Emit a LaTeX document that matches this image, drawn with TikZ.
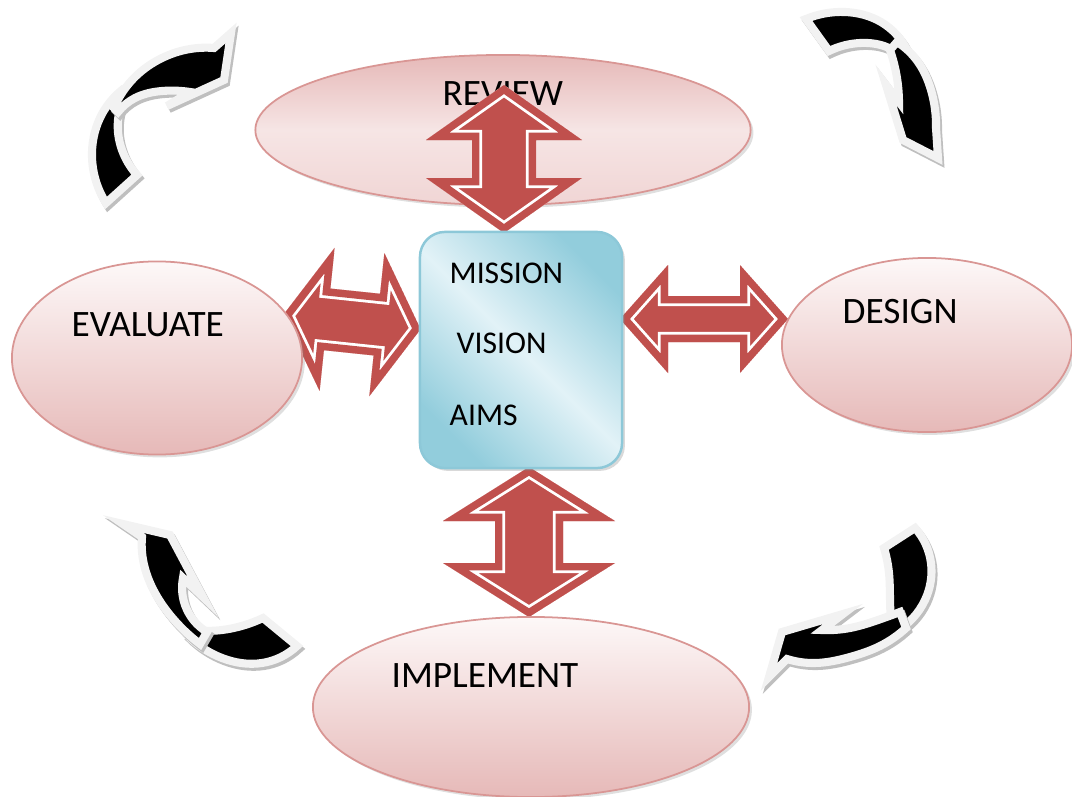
\documentclass[tikz,border=0pt]{standalone}
\usepackage{fontspec}
\setmainfont{Carlito}
\usetikzlibrary{shapes.geometric}
\usetikzlibrary{shadows}
\usetikzlibrary{hobby}

\definecolor{arrowred}{HTML}{C0504D}
\definecolor{ovalline}{HTML}{D99694}
\definecolor{ovalpale}{HTML}{FDF8F8}
\definecolor{ovalpink}{HTML}{E6B9B8}
\definecolor{coreline}{HTML}{8DC8D8}
\definecolor{coredark}{HTML}{92CDDC}
\definecolor{corelight}{HTML}{E2F2F7}
\definecolor{rimgrey}{HTML}{F2F2F2}
\definecolor{rimshadow}{HTML}{BFBFBF}

\tikzstyle{oval}=[ellipse, draw=ovalline, line width=0.5pt, inner sep=0pt,
  top color=ovalpale, bottom color=ovalpink,
  drop shadow={opacity=0.25, shadow xshift=0.8pt, shadow yshift=-0.8pt}]
\tikzstyle{corebox}=[rectangle, rounded corners=0.25cm, draw=coreline, line width=0.7pt,
  shading=axis, top color=coredark, bottom color=coredark, middle color=corelight,
  shading angle=-45, minimum width=2.02cm, minimum height=2.36cm,
  drop shadow={opacity=0.3, shadow xshift=0.8pt, shadow yshift=-0.8pt}]
\tikzstyle{stagetext}=[anchor=base west, inner sep=0pt, font=\fontsize{10.6}{12}\selectfont]
\tikzstyle{aimtext}=[anchor=base west, inner sep=0pt, font=\fontsize{9}{11}\selectfont]
\tikzstyle{bentpiece}=[fill=black, draw=rimgrey, line width=2.3pt, line join=miter]
\tikzstyle{bentshade}=[fill=rimshadow, draw=rimshadow, line width=2.3pt, line join=miter, shift={(2,3)}]

% outline of a two-headed block arrow: half length, head length, head half width, shaft half width
\newcommand{\twowayoutline}[4]{(-#1,0) -- ({-#1+#2},#3) -- ({-#1+#2},#4) -- ({#1-#2},#4)
  -- ({#1-#2},#3) -- (#1,0) -- ({#1-#2},-#3) -- ({#1-#2},-#4) -- ({-#1+#2},-#4)
  -- ({-#1+#2},-#3) -- cycle}
% one piece of a bent arrow, with its rim and shadow
\newcommand{\bent}[1]{\filldraw[bentshade] #1; \filldraw[bentpiece] #1;}

\tikzset{
  pics/twoway/.style n args={4}{code={
    \clip \twowayoutline{#1}{#2}{#3}{#4};
    \fill[arrowred] \twowayoutline{#1}{#2}{#3}{#4};
    \draw[white, line width=5.8pt, line join=miter] \twowayoutline{#1}{#2}{#3}{#4};
    \draw[arrowred, line width=4.2pt, line join=miter] \twowayoutline{#1}{#2}{#3}{#4};
  }}
}

\begin{document}
\begin{tikzpicture}[x=0.01cm, y=-0.01cm, use Hobby shortcut]
  \useasboundingbox (0,0) rectangle (1072,797);

  \node[oval, minimum width=4.95cm, minimum height=1.5cm,
    top color=ovalpink, bottom color=ovalpink!60!white, middle color=ovalpale!70!ovalpink]
    (review) at (503,130) {};
  \node[stagetext] (reviewlabel) at (442,106) {REVIEW};

  % block arrows between the centre and the stages
  \pic[rotate=90] at (504,159) {twoway={74}{55}{78}{32}};
  \pic[rotate=90] at (529,542) {twoway={75}{54}{86}{34}};
  \pic[rotate=-6] at (352,322) {twoway={69}{44}{72}{31}};
  \pic at (704,319) {twoway={84}{48}{54}{23}};

  \node[oval, minimum width=2.9cm, minimum height=1.93cm] (evaluate) at (157,358) {};
  \node[oval, minimum width=2.9cm, minimum height=1.74cm] (design) at (927,345) {};
  \node[oval, minimum width=4.36cm, minimum height=1.8cm] (implement) at (531,707) {};
  \node[stagetext] (evaluatelabel) at (71,336) {EVALUATE};
  \node[stagetext] (designlabel) at (842,323) {DESIGN};
  \node[stagetext] (implementlabel) at (391,687) {IMPLEMENT};

  \node[corebox] (core) at (521,350) {};
  \node[aimtext] (mission) at (449,283) {MISSION};
  \node[aimtext] (vision) at (456,353) {VISION};
  \node[aimtext] (aims) at (449,425) {AIMS};

  % bent arrows going round the cycle
  \bent{(106,203) .. (92,152) .. (102,114) .. (122,90) -- (127,93) .. (118,120) .. (122,150)
    .. (137,175) -- cycle}
  \bent{(114,108) .. (136,76) .. (162,58) .. (190,49) .. (214,48) -- (231,33) -- (224,80)
    -- (167,106) -- (190,92) .. (162,91) .. (135,98) .. (118,112) -- cycle}

  \bent{(806,19) .. (845,12) .. (881,22) .. (908,52) -- (903,57) .. (884,46) .. (860,43)
    .. (829,51) -- cycle}
  \bent{(897,42) .. (918,62) .. (931,90) .. (936,128) -- (938,158) -- (903,140) -- (886,85)
    -- (899,102) .. (897,78) .. (890,50) -- cycle}

  \bent{(915,528) .. (931,563) .. (925,600) .. (895,632) -- (891,626) .. (890,598) .. (889,573)
    .. (884,548) -- cycle}
  \bent{(906,628) .. (880,646) .. (850,657) .. (815,663) .. (787,659) -- (769,677) -- (782,632)
    -- (843,614) -- (822,630) .. (850,628) .. (878,620) .. (900,612) -- cycle}

  \bent{(297,646) .. (262,663) .. (222,658) .. (188,636) -- (193,630) .. (222,630) .. (245,625)
    .. (263,618) -- cycle}
  \bent{(200,644) .. (170,615) .. (151,585) .. (142,552) .. (142,537) -- (123,524) -- (170,535)
    -- (203,597) -- (183,578) .. (185,605) .. (207,632) -- cycle}
\end{tikzpicture}
\end{document}
